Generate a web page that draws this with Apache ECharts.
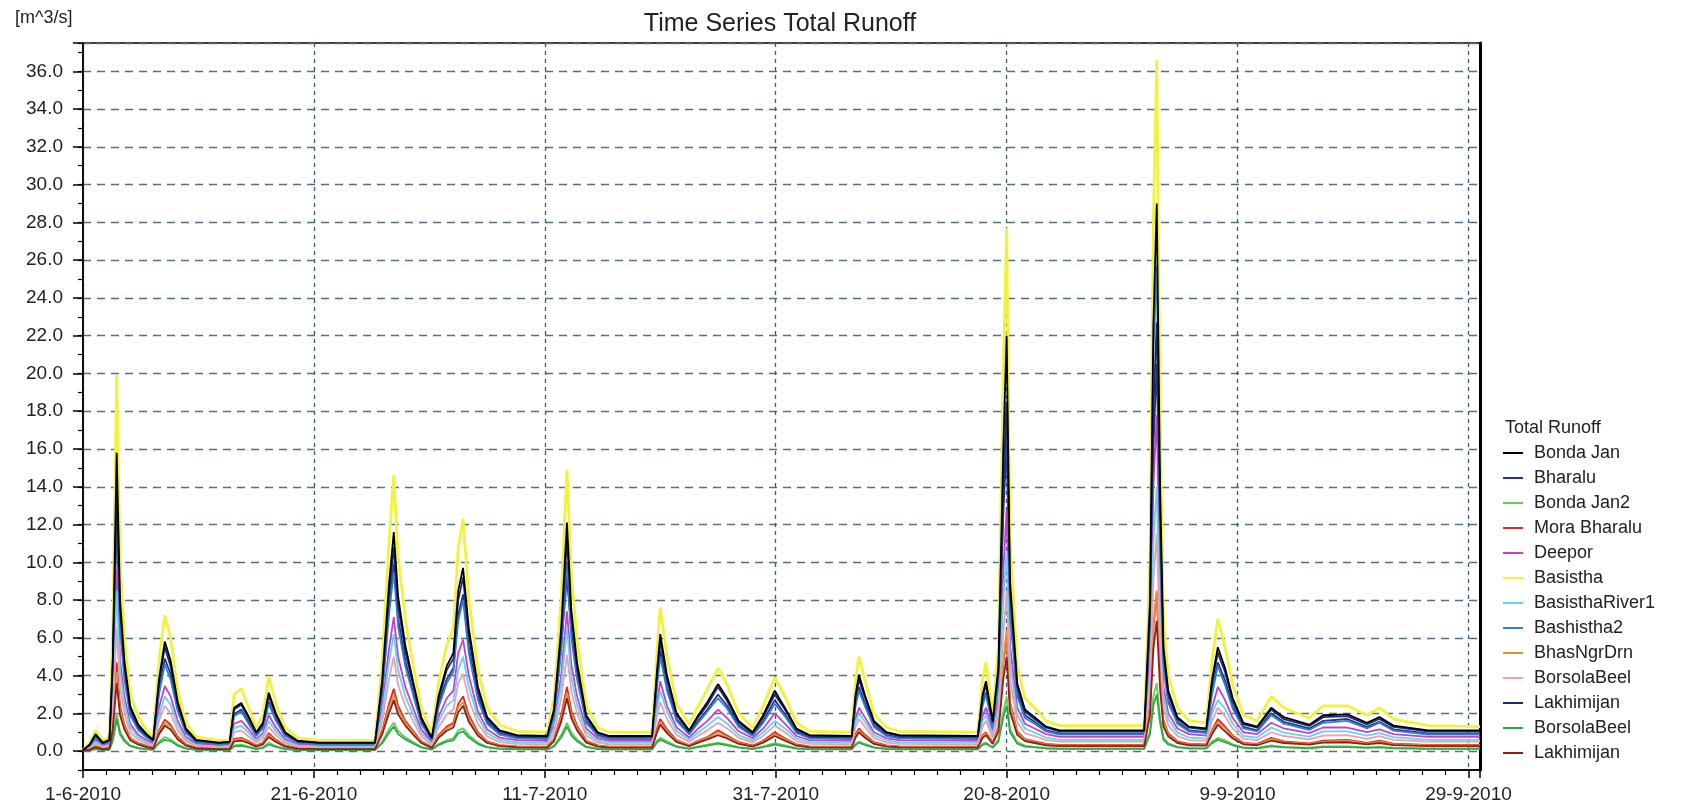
<!DOCTYPE html>
<html><head><meta charset="utf-8">
<script src="https://cdn.jsdelivr.net/npm/echarts@6/dist/echarts.min.js"></script>
<style>html,body{margin:0;padding:0;background:#fff}#c{width:1692px;height:810px}</style>
</head><body><div id="c"></div>
<script>
const times = ['2010-06-01 00:00','2010-06-01 14:00','2010-06-02 02:00','2010-06-02 17:00','2010-06-03 07:00','2010-06-03 14:00','2010-06-03 22:00','2010-06-04 05:00','2010-06-04 14:00','2010-06-05 02:00',
'2010-06-05 19:00','2010-06-06 14:00','2010-06-07 02:00','2010-06-07 14:00','2010-06-08 02:00','2010-06-08 14:00','2010-06-09 05:00','2010-06-09 22:00','2010-06-10 19:00','2010-06-12 19:00',
'2010-06-13 17:00','2010-06-14 02:00','2010-06-14 17:00','2010-06-15 07:00','2010-06-16 00:00','2010-06-16 14:00','2010-06-17 02:00','2010-06-17 17:00','2010-06-18 12:00','2010-06-19 14:00',
'2010-06-21 12:00','2010-06-26 07:00','2010-06-26 22:00','2010-06-27 12:00','2010-06-27 22:00','2010-06-28 07:00','2010-06-28 22:00','2010-06-29 14:00','2010-06-30 07:00','2010-07-01 05:00',
'2010-07-01 19:00','2010-07-02 12:00','2010-07-03 02:00','2010-07-03 12:00','2010-07-03 22:00','2010-07-04 10:00','2010-07-05 05:00','2010-07-06 00:00','2010-07-07 02:00','2010-07-08 14:00',
'2010-07-11 05:00','2010-07-11 19:00','2010-07-12 10:00','2010-07-12 22:00','2010-07-13 07:00','2010-07-13 19:00','2010-07-14 14:00','2010-07-15 14:00','2010-07-16 14:00','2010-07-20 07:00',
'2010-07-20 17:00','2010-07-21 00:00','2010-07-21 14:00','2010-07-22 10:00','2010-07-23 12:00','2010-07-24 07:00','2010-07-25 02:00','2010-07-26 00:00','2010-07-26 19:00','2010-07-27 19:00',
'2010-07-29 00:00','2010-07-29 22:00','2010-07-30 22:00','2010-07-31 19:00','2010-08-01 19:00','2010-08-02 22:00','2010-08-06 14:00','2010-08-06 22:00','2010-08-07 05:00','2010-08-07 17:00',
'2010-08-08 12:00','2010-08-09 14:00','2010-08-10 17:00','2010-08-17 12:00','2010-08-17 22:00','2010-08-18 05:00','2010-08-18 19:00','2010-08-19 07:00','2010-08-19 17:00','2010-08-20 00:00',
'2010-08-20 07:00','2010-08-20 22:00','2010-08-21 14:00','2010-08-22 10:00','2010-08-23 10:00','2010-08-24 14:00','2010-08-31 22:00','2010-09-01 10:00','2010-09-01 17:00','2010-09-02 00:00',
'2010-09-02 07:00','2010-09-02 14:00','2010-09-03 00:00','2010-09-03 19:00','2010-09-04 19:00','2010-09-06 07:00','2010-09-06 19:00','2010-09-07 07:00','2010-09-07 22:00','2010-09-08 14:00',
'2010-09-09 12:00','2010-09-10 17:00','2010-09-11 22:00','2010-09-13 00:00','2010-09-15 05:00','2010-09-16 10:00','2010-09-18 12:00','2010-09-20 05:00','2010-09-21 07:00','2010-09-22 12:00',
'2010-09-25 12:00','2010-09-30 00:00'];

const bondaJan = [0.05,0.35,0.9,0.45,0.6,5.0,15.8,8.0,4.8,2.4, 1.4,0.85,0.6,3.8,5.8,4.8,2.6,1.2,0.6,0.45, 0.5,2.3,2.55,1.9,1.0,1.5,3.1,2.0,1.0,0.55, 0.45,0.45,3.8,8.8,11.6,8.2,5.6,3.7,1.8,0.7, 2.9,4.5,5.2,8.5,9.7,6.5,3.4,1.8,1.1,0.85, 0.8,2.2,6.5,12.1,7.5,4.7,1.9,1.0,0.8,0.8, 4.2,6.2,4.0,2.0,1.1,1.9,2.6,3.55,2.8,1.6, 1.0,1.9,3.2,2.3,1.2,0.85,0.8,3.0,4.05,3.0, 1.6,1.0,0.85,0.8,3.0,3.7,1.6,4.5,16.0,22.0, 9.0,3.6,2.2,1.8,1.3,1.1,1.1,8.0,22.5,29.0, 14.0,5.5,3.2,1.8,1.3,1.2,3.8,5.5,4.4,2.8, 1.5,1.3,2.3,1.8,1.4,1.9,1.95,1.5,1.8,1.35, 1.1,1.1];
const bharalu = [0.04,0.3,0.78,0.38,0.5,4.0,12.1,6.8,4.1,2.05, 1.2,0.72,0.5,3.2,4.9,4.1,2.2,1.02,0.5,0.38, 0.42,1.95,2.2,1.6,0.85,1.28,2.6,1.7,0.85,0.47, 0.38,0.38,3.2,7.5,9.9,7.0,4.8,3.1,1.55,0.6, 2.5,3.8,4.4,7.2,8.3,5.5,2.9,1.55,0.94,0.72, 0.68,1.9,5.5,9.2,6.4,4.0,1.6,0.85,0.68,0.68, 3.6,5.3,3.4,1.7,0.94,1.6,2.2,3.0,2.4,1.36, 0.85,1.6,2.7,1.95,1.02,0.72,0.68,2.55,3.4,2.55, 1.36,0.85,0.72,0.68,2.55,3.1,1.36,3.8,12.5,16.3, 7.6,3.1,1.9,1.55,1.1,0.94,0.94,6.3,16.0,20.5, 11.5,4.7,2.7,1.55,1.1,1.02,3.2,4.7,3.75,2.4, 1.28,1.1,2.0,1.55,1.2,1.6,1.7,1.28,1.55,1.15, 0.94,0.94];
const bondaJan2 = [0.01,0.05,0.12,0.06,0.08,0.65,2.0,1.05,0.62,0.31, 0.18,0.11,0.08,0.5,0.75,0.62,0.34,0.16,0.08,0.06, 0.07,0.3,0.35,0.25,0.13,0.2,0.45,0.26,0.13,0.07, 0.06,0.06,0.5,1.15,1.5,1.07,0.73,0.48,0.23,0.09, 0.38,0.58,0.68,1.1,1.2,0.85,0.44,0.23,0.14,0.11, 0.1,0.29,0.85,1.5,0.98,0.61,0.25,0.13,0.1,0.1, 0.55,0.7,0.52,0.26,0.14,0.25,0.34,0.45,0.36,0.21, 0.13,0.25,0.42,0.3,0.16,0.11,0.1,0.39,0.5,0.39, 0.21,0.13,0.11,0.1,0.39,0.45,0.21,0.6,2.1,2.9, 1.17,0.47,0.29,0.23,0.17,0.14,0.14,1.05,2.9,3.6, 1.8,0.72,0.42,0.23,0.17,0.16,0.5,0.7,0.57,0.36, 0.2,0.17,0.3,0.23,0.18,0.25,0.25,0.2,0.23,0.18, 0.14,0.14];
const moraBharalu = [0.01,0.1,0.26,0.13,0.18,1.5,4.7,2.4,1.4,0.7, 0.42,0.26,0.18,1.1,1.67,1.4,0.76,0.36,0.18,0.13, 0.15,0.65,0.7,0.55,0.3,0.45,0.95,0.6,0.3,0.16, 0.13,0.13,1.1,2.5,3.3,2.4,1.6,1.07,0.52,0.21, 0.85,1.3,1.5,2.5,2.9,1.9,1.0,0.52,0.32,0.25, 0.24,0.65,1.9,3.4,2.15,1.35,0.55,0.3,0.24,0.24, 1.2,1.7,1.15,0.58,0.32,0.55,0.75,1.1,0.82,0.47, 0.3,0.55,1.0,0.68,0.35,0.25,0.24,0.9,1.2,0.88, 0.47,0.3,0.25,0.24,0.85,1.0,0.47,1.3,4.6,6.2, 2.6,1.05,0.64,0.52,0.38,0.33,0.33,2.4,6.5,8.4, 4.0,1.6,0.93,0.52,0.38,0.35,1.1,1.7,1.3,0.82, 0.44,0.38,0.7,0.52,0.41,0.55,0.6,0.44,0.55,0.4, 0.33,0.33];
const deepor = [0.03,0.24,0.6,0.3,0.4,3.2,9.6,4.8,2.9,1.45, 0.85,0.55,0.4,2.3,3.45,2.9,1.6,0.75,0.4,0.3, 0.34,1.45,1.6,1.2,0.65,0.95,1.9,1.25,0.65,0.36, 0.3,0.3,2.3,5.4,7.1,5.0,3.4,2.3,1.15,0.48, 1.8,2.8,3.2,5.2,5.9,4.0,2.1,1.15,0.72,0.58, 0.55,1.4,4.0,7.4,4.6,2.9,1.2,0.68,0.55,0.55, 2.5,3.7,2.4,1.25,0.72,1.2,1.6,2.2,1.75,1.05, 0.68,1.2,2.0,1.45,0.8,0.58,0.55,1.7,2.3,1.8, 1.0,0.68,0.58,0.55,1.85,2.3,1.05,2.8,9.5,12.8, 5.6,2.3,1.45,1.2,0.9,0.75,0.75,5.0,14.0,17.8, 8.6,3.4,2.0,1.2,0.9,0.82,2.3,3.4,2.7,1.75, 1.0,0.9,1.5,1.2,0.95,1.25,1.25,1.0,1.15,0.9, 0.75,0.75];
const basistha = [0.05,0.45,1.1,0.55,0.75,6.5,19.9,10.0,6.0,3.0, 1.8,1.05,0.75,4.8,7.2,6.0,3.2,1.5,0.75,0.55, 0.6,3.0,3.3,2.4,1.25,1.9,3.95,2.5,1.25,0.7, 0.55,0.55,4.8,11.0,14.6,10.3,7.0,4.6,2.3,0.9, 3.6,5.6,6.5,10.7,12.3,8.1,4.3,2.3,1.4,1.05, 1.0,2.8,8.1,14.9,9.4,5.9,2.4,1.25,1.0,1.0, 5.2,7.6,5.0,2.5,1.4,2.4,3.3,4.4,3.5,2.0, 1.25,2.4,3.9,2.9,1.5,1.05,1.0,3.8,5.0,3.8, 2.0,1.25,1.05,1.0,3.8,4.7,2.0,5.6,20.0,27.7, 11.3,4.5,2.8,2.3,1.6,1.35,1.35,10.0,28.0,36.6, 17.5,6.9,4.0,2.3,1.6,1.5,4.8,7.0,5.5,3.5, 1.9,1.6,2.9,2.3,1.75,2.4,2.4,1.9,2.3,1.7, 1.35,1.3];
const basisthaRiver1 = [0.03,0.2,0.5,0.25,0.33,2.8,8.5,4.2,2.5,1.25, 0.72,0.45,0.33,1.9,2.9,2.45,1.35,0.62,0.32,0.24, 0.27,1.2,1.35,1.0,0.54,0.8,1.6,1.05,0.54,0.3, 0.24,0.24,2.0,4.7,6.2,4.3,2.9,1.95,0.95,0.38, 1.55,2.4,2.7,4.3,5.0,3.4,1.8,0.95,0.6,0.47, 0.45,1.2,3.5,6.5,3.9,2.45,1.0,0.56,0.45,0.45, 2.2,3.2,2.1,1.05,0.6,1.0,1.35,1.8,1.45,0.85, 0.56,1.0,1.6,1.2,0.66,0.47,0.45,1.55,2.0,1.55, 0.85,0.56,0.47,0.45,1.6,1.9,0.85,2.4,8.0,10.5, 4.7,1.9,1.2,0.98,0.72,0.6,0.6,4.2,11.0,14.0, 7.0,2.9,1.7,0.98,0.72,0.66,2.0,2.7,2.25,1.45, 0.8,0.72,1.25,0.98,0.77,1.05,1.05,0.82,0.95,0.74, 0.6,0.6];
const bashistha2 = [0.04,0.28,0.72,0.36,0.48,4.4,13.0,6.5,3.8,1.9, 1.1,0.68,0.48,3.0,4.6,3.8,2.1,0.96,0.48,0.36, 0.4,1.85,2.1,1.5,0.8,1.2,2.5,1.6,0.8,0.44, 0.36,0.36,3.0,7.2,9.5,6.6,4.5,3.0,1.45,0.56, 2.3,3.6,4.2,6.9,8.0,5.2,2.7,1.45,0.88,0.68, 0.64,1.8,5.3,10.0,6.0,3.8,1.5,0.8,0.64,0.64, 3.4,5.0,3.2,1.6,0.88,1.5,2.1,2.8,2.25,1.28, 0.8,1.5,2.5,1.85,0.96,0.68,0.64,2.4,3.2,2.4, 1.28,0.8,0.68,0.64,2.4,3.0,1.28,3.6,14.0,18.5, 7.2,2.9,1.75,1.45,1.04,0.88,0.88,7.0,21.0,25.7, 11.2,4.4,2.55,1.45,1.04,0.96,3.0,4.5,3.5,2.25, 1.2,1.04,1.9,1.45,1.12,1.5,1.6,1.2,1.5,1.08, 0.88,0.88];
const bhasNgrDrn = [0.01,0.09,0.24,0.12,0.16,1.35,4.2,2.2,1.3,0.65, 0.38,0.23,0.16,1.0,1.5,1.3,0.7,0.33,0.16,0.12, 0.14,0.6,0.65,0.5,0.27,0.4,0.85,0.54,0.27,0.15, 0.12,0.12,1.0,2.3,3.0,2.2,1.5,1.0,0.48,0.19, 0.78,1.2,1.4,2.3,2.6,1.75,0.92,0.48,0.3,0.23, 0.22,0.6,1.75,3.1,2.0,1.25,0.5,0.27,0.22,0.22, 1.1,1.55,1.05,0.54,0.3,0.5,0.7,1.0,0.76,0.43, 0.27,0.5,0.9,0.62,0.32,0.23,0.22,0.82,1.1,0.8, 0.43,0.27,0.23,0.22,0.8,0.95,0.43,1.25,4.7,6.4, 2.5,0.97,0.6,0.48,0.35,0.3,0.3,2.3,6.6,8.5, 3.8,1.5,0.86,0.48,0.35,0.32,1.0,1.55,1.2,0.76, 0.4,0.35,0.65,0.48,0.38,0.5,0.55,0.4,0.5,0.37, 0.3,0.3];
const borsolaBeel = [0.02,0.16,0.4,0.2,0.27,2.1,6.5,3.4,2.0,1.0, 0.6,0.38,0.27,1.6,2.4,2.0,1.1,0.52,0.27,0.2, 0.22,1.0,1.1,0.8,0.44,0.65,1.3,0.85,0.44,0.24, 0.2,0.2,1.6,3.8,5.0,3.5,2.4,1.6,0.78,0.32, 1.25,1.95,2.2,3.6,4.1,2.75,1.45,0.78,0.48,0.38, 0.36,0.95,2.8,5.1,3.2,2.0,0.82,0.45,0.36,0.36, 1.8,2.6,1.7,0.86,0.48,0.82,1.1,1.5,1.2,0.7, 0.45,0.82,1.35,1.0,0.52,0.38,0.36,1.3,1.7,1.3, 0.7,0.45,0.38,0.36,1.3,1.6,0.7,1.9,6.2,8.5, 3.8,1.55,0.95,0.8,0.58,0.5,0.5,3.5,9.0,11.5, 5.8,2.35,1.38,0.8,0.58,0.54,1.6,2.3,1.85,1.2, 0.65,0.58,1.0,0.8,0.62,0.82,0.85,0.65,0.8,0.6, 0.5,0.5];
const lakhimijan = [0.05,0.32,0.85,0.42,0.55,4.6,13.5,7.5,4.5,2.25, 1.3,0.8,0.56,3.6,5.5,4.5,2.45,1.12,0.56,0.42, 0.47,2.2,2.45,1.8,0.95,1.4,2.9,1.9,0.95,0.52, 0.42,0.42,3.5,8.2,10.8,7.7,5.3,3.5,1.7,0.66, 2.7,4.3,4.9,8.0,9.2,6.1,3.2,1.7,1.04,0.8, 0.76,2.1,6.1,11.2,7.1,4.4,1.8,0.95,0.76,0.76, 3.9,5.8,3.8,1.9,1.04,1.8,2.45,3.4,2.65,1.5, 0.95,1.8,3.0,2.2,1.14,0.8,0.76,2.8,3.8,2.85, 1.5,0.95,0.8,0.76,2.85,3.5,1.5,4.2,13.5,18.5, 8.5,3.4,2.1,1.7,1.24,1.05,1.05,7.0,18.0,22.7, 12.5,5.2,3.0,1.7,1.24,1.14,3.6,5.2,4.2,2.65, 1.42,1.24,2.2,1.7,1.33,1.8,1.85,1.42,1.7,1.28, 1.05,1.05];
const borsolaBeel2 = [0.01,0.04,0.1,0.05,0.07,0.55,1.7,0.88,0.53,0.26, 0.15,0.09,0.07,0.42,0.6,0.53,0.29,0.13,0.07,0.05, 0.06,0.25,0.28,0.21,0.11,0.17,0.35,0.22,0.11,0.06, 0.05,0.05,0.42,0.97,1.3,0.9,0.62,0.41,0.2,0.08, 0.32,0.5,0.57,0.94,1.05,0.72,0.37,0.2,0.12,0.09, 0.09,0.24,0.72,1.3,0.83,0.52,0.21,0.11,0.09,0.09, 0.46,0.6,0.44,0.22,0.12,0.21,0.29,0.4,0.31,0.18, 0.11,0.21,0.35,0.25,0.13,0.09,0.09,0.33,0.45,0.33, 0.18,0.11,0.09,0.09,0.33,0.4,0.18,0.5,1.8,2.4, 1.0,0.4,0.24,0.2,0.14,0.12,0.12,0.9,2.4,3.0, 1.5,0.6,0.35,0.2,0.14,0.13,0.42,0.6,0.48,0.31, 0.17,0.14,0.25,0.2,0.15,0.21,0.21,0.17,0.2,0.15, 0.12,0.12];
const lakhimijan2 = [0.01,0.08,0.21,0.1,0.14,1.15,3.6,1.9,1.15,0.58, 0.34,0.2,0.14,0.9,1.35,1.15,0.62,0.29,0.14,0.11, 0.12,0.52,0.55,0.44,0.24,0.36,0.75,0.48,0.24,0.13, 0.11,0.11,0.9,2.0,2.7,1.95,1.35,0.88,0.43,0.17, 0.7,1.08,1.25,2.05,2.4,1.55,0.82,0.43,0.26,0.2, 0.19,0.52,1.55,2.8,1.75,1.1,0.45,0.24,0.19,0.19, 0.98,1.4,0.95,0.48,0.26,0.45,0.62,0.85,0.67,0.38, 0.24,0.45,0.8,0.55,0.29,0.2,0.19,0.72,1.0,0.72, 0.38,0.24,0.2,0.19,0.7,0.85,0.38,1.05,3.8,5.0, 2.1,0.86,0.53,0.43,0.31,0.26,0.26,1.9,5.4,6.9, 3.3,1.3,0.77,0.43,0.31,0.29,0.9,1.4,1.05,0.67, 0.36,0.31,0.55,0.43,0.34,0.45,0.47,0.36,0.43,0.32, 0.26,0.26];

const seriesNames = ['Bonda Jan','Bharalu','Bonda Jan2','Mora Bharalu','Deepor','Basistha','BasisthaRiver1','Bashistha2','BhasNgrDrn','BorsolaBeel','Lakhimijan','BorsolaBeel ','Lakhimijan '];
const seriesValues = [bondaJan,bharalu,bondaJan2,moraBharalu,deepor,basistha,basisthaRiver1,bashistha2,bhasNgrDrn,borsolaBeel,lakhimijan,borsolaBeel2,lakhimijan2];
const seriesColors = ['#000000','#25309a','#66cc55','#d92a2a','#c63fcf','#f2f23a','#5fd6ee','#2f82c4','#e3922c','#ec9fb5','#1d2b6e','#2fa84a','#8e1f1f'];
const xTickDays = [0,20,40,60,80,100,120];

const BASE = Date.UTC(2010,5,1);
function toDay(s){
  const [d,t] = s.split(' ');
  const [y,m,dd] = d.split('-').map(Number);
  const [h,mi] = t.split(':').map(Number);
  return (Date.UTC(y,m-1,dd,h,mi) - BASE)/86400000;
}
function dayLabel(v){
  const d = new Date(BASE + v*86400000);
  return d.getUTCDate()+'-'+(d.getUTCMonth()+1)+'-'+d.getUTCFullYear();
}
const xs = times.map(toDay);

const chart = echarts.init(document.getElementById('c'));
const FONT = '"Liberation Sans", Arial, sans-serif';
const option = {
  animation:false,
  backgroundColor:'#fff',
  color: seriesColors,
  textStyle:{fontFamily:FONT},
  graphic:[
    {type:'text', left:15, top:9, style:{text:'[m^3/s]', font:'18px '+FONT, fill:'#222'}},
    {type:'text', x:780, y:24, style:{text:'Time Series Total Runoff', font:'25px '+FONT, fill:'#222', textAlign:'center', textVerticalAlign:'middle'}},
    {type:'text', left:1505, top:419, style:{text:'Total Runoff', font:'18px '+FONT, fill:'#222'}}
  ],
  legend:{
    orient:'vertical', left:1503, top:444, itemWidth:20, itemHeight:2, itemGap:7, icon:'rect',
    padding:0, data: seriesNames,
    textStyle:{fontSize:18, color:'#222', fontFamily:FONT, padding:[0,0,0,6]}
  },
  grid:[
    {left:83, right:212, top:43, bottom:40, show:true, borderColor:'#000', borderWidth:1.5, backgroundColor:'transparent'},
    {left:83, right:212, top:43, bottom:58.88}
  ],
  xAxis:[
    {gridIndex:0, type:'value', min:0, max:121, interval:20,
     axisLine:{show:true, onZero:false, lineStyle:{color:'#000', width:1.5}},
     axisTick:{show:true, length:8, lineStyle:{color:'#000', width:1.5}},
     minorTick:{show:true, splitNumber:10, length:5, lineStyle:{color:'#000', width:1.2}},
     axisLabel:{margin:15, fontSize:19, color:'#222', fontFamily:FONT, showMaxLabel:false,
       formatter:v => xTickDays.indexOf(Math.round(v))>=0 && Math.abs(v-Math.round(v))<1e-6 ? dayLabel(v) : ''},
     splitLine:{show:true, lineStyle:{color:'#2e5d78', type:[4,4], width:1.3}}
    },
    {gridIndex:1, type:'value', min:0, max:121, show:false, splitLine:{show:false}}
  ],
  yAxis:[
    {gridIndex:0, type:'value', min:-1, max:37.5, interval:1,
     axisLine:{show:true, onZero:false, lineStyle:{color:'#000', width:1.5}},
     axisTick:{show:true, length:5, lineStyle:{color:'#000', width:1.2}},
     axisLabel:{show:false}, splitLine:{show:false}},
    {gridIndex:0, type:'value', position:'right', min:-1, max:37.5,
     axisLine:{show:true, onZero:false, lineStyle:{color:'#000', width:3}},
     axisTick:{show:false}, axisLabel:{show:false}, splitLine:{show:false}},
    {gridIndex:1, type:'value', min:0, max:37.5, interval:2,
     axisLine:{show:false},
     axisTick:{show:true, length:10, lineStyle:{color:'#000', width:1.5}},
     axisLabel:{margin:20, fontSize:19, color:'#222', fontFamily:FONT,
       formatter:v => (Math.abs(v/2 - Math.round(v/2))<1e-6 && v<=36) ? v.toFixed(1) : ''},
     splitLine:{show:true, lineStyle:{color:'#50717e', type:[8,6], width:1.3}}
    }
  ],
  series: seriesNames.map((n,k)=>({
    name:n, type:'line', xAxisIndex:1, yAxisIndex:2, showSymbol:false, symbol:'none',
    z: n==='Basistha' ? 1 : (n==='Bonda Jan' ? 4 : 2),
    lineStyle:{width: n==='Basistha' ? 2.8 : 1.8, color: seriesColors[k]},
    itemStyle:{color: seriesColors[k]},
    data: xs.map((x,i)=>[x, seriesValues[k][i]])
  }))
};
chart.setOption(option);
</script>
</body></html>
